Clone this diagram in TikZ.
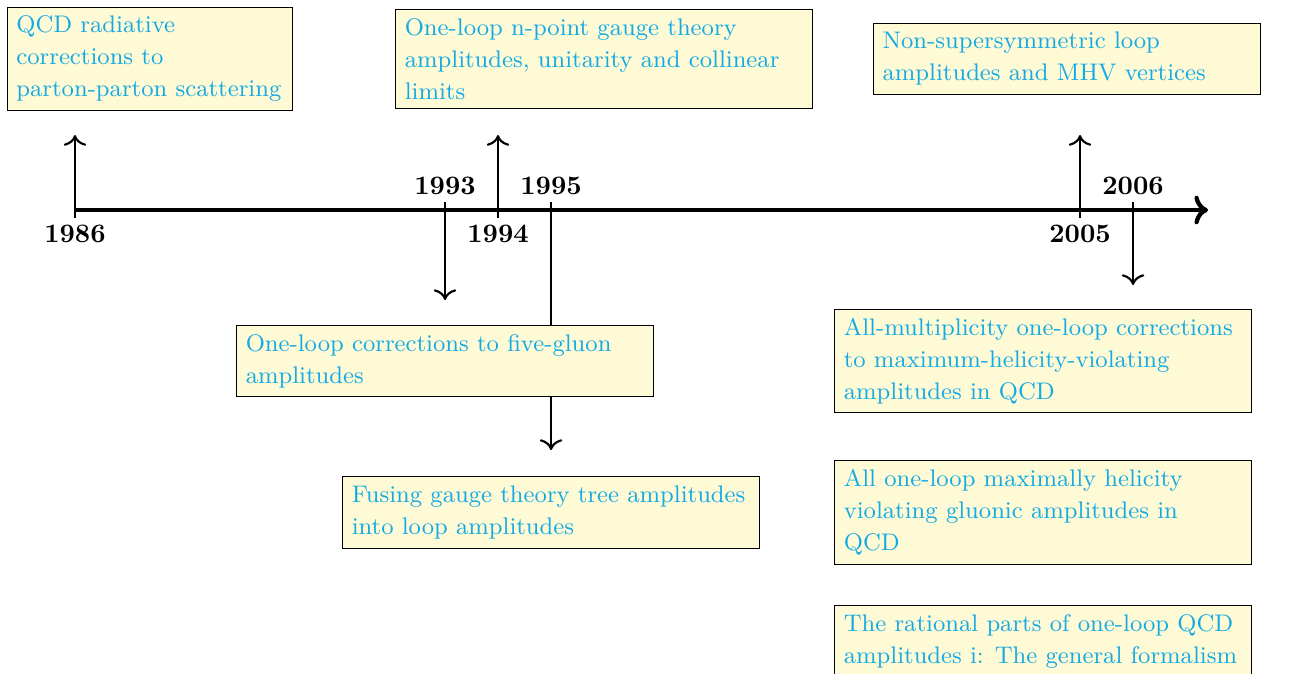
\documentclass[tikz,border=0pt]{standalone}
\usepackage{xcolor}
\usetikzlibrary{arrows,arrows.meta,positioning,calc}
\definecolor{titleblue}{RGB}{20,170,228}
\definecolor{notefill}{RGB}{255,250,214}
\hyphenpenalty=10000
\exhyphenpenalty=10000

\begin{document}
\begin{tikzpicture}[
    paper/.style={draw, fill=notefill, text=titleblue, font=\fontsize{9}{12}\selectfont,
      align=flush left, text width=5.25cm},
    yr/.style={font=\bfseries},
    link/.style={thick, -{To[scale=1.2]}}]
    \useasboundingbox (0,0) rectangle (17.022,-8.867);
    % main axis
    \coordinate (start) at (0.988,-2.767);
    \coordinate (end) at (15.916,-2.767);
    \draw[ultra thick,->] (start) -- (end);
    % points on the axis: a = just above, b = just below
    \foreach \n/\x in {1986/0.988, 1993/5.863, 1994/6.561, 1995/7.260, 2005/14.229, 2006/14.928} {
      \coordinate (a\n) at (\x,-2.661);
      \coordinate (b\n) at (\x,-2.872);
    }
    % free ends of the arrows
    \coordinate (t1986) at (0.988,-1.779);
    \coordinate (t1993) at (5.863,-3.953);
    \coordinate (t1994) at (6.561,-1.779);
    \coordinate (t1995) at (7.260,-5.929);
    \coordinate (t2005) at (14.229,-1.779);
    \coordinate (t2006) at (14.928,-3.755);
    % years
    \node[yr, below, yshift=1pt] (l1986) at (b1986) {1986};
    \node[yr, above, yshift=-1pt] (l1993) at (a1993) {1993};
    \node[yr, below, yshift=1pt] (l1994) at (b1994) {1994};
    \node[yr, above, yshift=-1pt] (l1995) at (a1995) {1995};
    \node[yr, below, yshift=1pt] (l2005) at (b2005) {2005};
    \node[yr, above, yshift=-1pt] (l2006) at (a2006) {2006};
    % arrows to the papers
    \draw[link] (b1986) -- (t1986);
    \draw[link] (a1993) -- (t1993);
    \draw[link] (b1994) -- (t1994);
    \draw[link] (a1995) -- (t1995);
    \draw[link] (b2005) -- (t2005);
    \draw[link] (a2006) -- (t2006);
    % papers above the axis
    \node[paper, text width=3.52cm] (qcd) at (1.976,-0.777)
      {QCD radiative corrections to parton-parton scattering};
    \node[paper] (npoint) at (7.958,-0.777)
      {One-loop n-point gauge theory amplitudes, unitarity and collinear limits};
    \node[paper, text width=4.86cm] (nonsusy) at (14.058,-0.777)
      {Non-supersymmetric loop amplitudes and MHV vertices};
    % papers below the axis
    \node[paper] (fivegluon) at (5.863,-4.756)
      {One-loop corrections to five-gluon amplitudes};
    \node[paper] (fusing) at (7.260,-6.752)
      {Fusing gauge theory tree amplitudes into loop amplitudes};
    \node[paper] (allmult) at (13.742,-4.756)
      {All-multiplicity one-loop corrections to maximum-helicity-violating amplitudes in QCD};
    \node[paper] (mhvqcd) at (13.742,-6.752)
      {All one-loop maximally helicity violating gluonic amplitudes in\\QCD};
    \node[paper, anchor=north] (rational) at (13.742,-7.971)
      {The rational parts of one-loop QCD amplitudes i: The general formalism};
\end{tikzpicture}
\end{document}
